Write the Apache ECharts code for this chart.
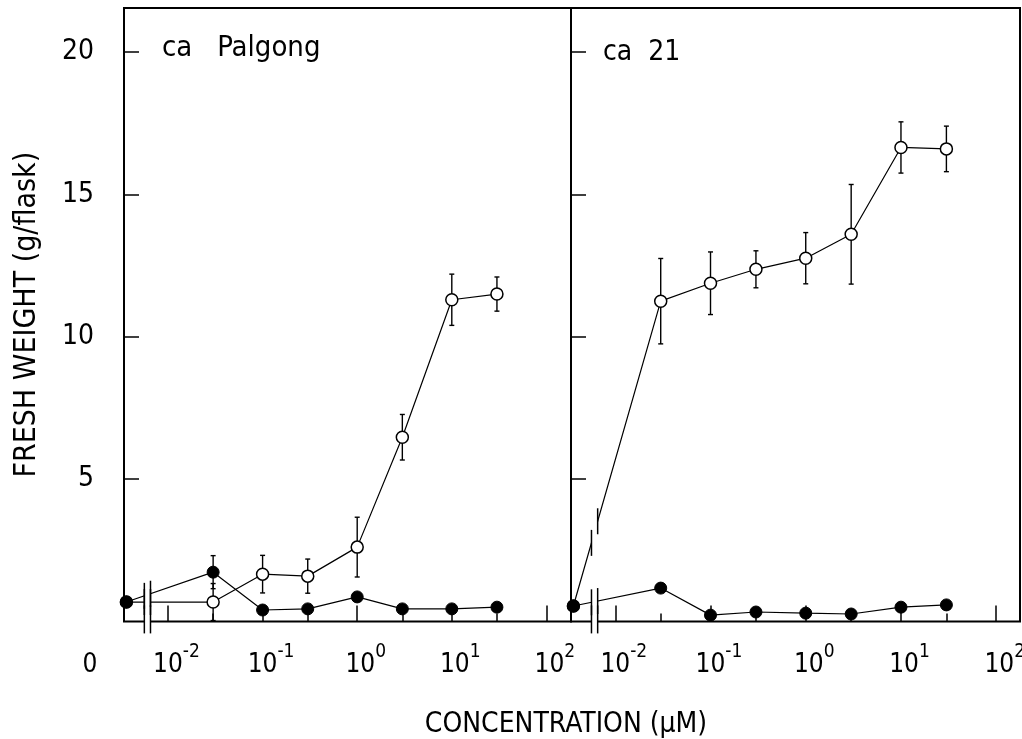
<!DOCTYPE html>
<html><head><meta charset="utf-8">
<script src="https://cdn.jsdelivr.net/npm/echarts@6/dist/echarts.min.js"></script>
<style>html,body{margin:0;padding:0;background:#fff}#c{width:1022px;height:739px}</style>
</head><body><div id="c"></div>
<script>
// ---- data ----
const concentrations = [0, 0.03, 0.1, 0.3, 1, 3, 10, 30];           // µM
const palgongOpen      = [0.68, 0.68, 1.66, 1.59, 2.61, 6.47, 11.3, 11.5];
const palgongOpenErr   = [0, 0.65, 0.66, 0.6, 1.05, 0.8, 0.9, 0.6];
const palgongFilled    = [0.68, 1.73, 0.4, 0.44, 0.86, 0.44, 0.44, 0.5];
const palgongFilledErr = [0, 0.58, 0, 0, 0, 0, 0, 0];
const ca21Open         = [0.54, 11.25, 11.88, 12.37, 12.76, 13.6, 16.65, 16.6];
const ca21OpenErr      = [0, 1.5, 1.1, 0.65, 0.9, 1.75, 0.9, 0.8];
const ca21Filled       = [0.54, 1.17, 0.22, 0.33, 0.29, 0.26, 0.5, 0.58];
const ca21FilledErr    = [0, 0, 0, 0, 0, 0, 0, 0];
const decadeExponents  = [-2, -1, 0, 1, 2];
const minorTickConc    = [0.03, 0.3, 3, 30];
const yTicks           = [5, 10, 15, 20];
const zeroLabel        = '0';
const panelLabels      = ['ca   Palgong', 'ca  21'];
const yTitle = 'FRESH WEIGHT (g/flask)';
const xTitle = 'CONCENTRATION (\u03bcM)';

// ---- layout / helpers ----
const FONT = "'DejaVu Sans Condensed', 'Liberation Sans Narrow', 'DejaVu Sans', sans-serif";
const X_MIN = -2.465, X_MAX = [2.26, 2.25];
const ZERO_X = -2.44;            // where concentration 0 is drawn on the broken log axis
const BREAK_X = [-2.25, -2.185]; // axis break marks
const toX = c => c === 0 ? ZERO_X : Math.log10(c);

const panels = [
  {open: palgongOpen, openErr: palgongOpenErr, filled: palgongFilled, filledErr: palgongFilledErr},
  {open: ca21Open, openErr: ca21OpenErr, filled: ca21Filled, filledErr: ca21FilledErr}
];

const grids = [
  {left: 124, top: 8, width: 447, height: 613.4},
  {left: 571, top: 8, width: 449, height: 613.4}
].map(g => Object.assign(g, {show: true, borderColor: '#000', borderWidth: 2, backgroundColor: 'transparent',
  containLabel: false, outerBoundsMode: 'none'}));

const richX = {
  p:  {width: 17, fontSize: 26, lineHeight: 36, fontFamily: FONT, color: '#000'},
  p0: {width: 1, fontSize: 26, lineHeight: 36, fontFamily: FONT, color: '#000'},
  b:  {fontSize: 26, lineHeight: 26, verticalAlign: 'bottom', fontFamily: FONT, color: '#000'},
  s:  {fontSize: 19, lineHeight: 19, verticalAlign: 'top', fontFamily: FONT, color: '#000'},
  z:  {fontSize: 26, lineHeight: 26, verticalAlign: 'bottom', fontFamily: FONT, color: '#000', padding: [0, 29, 0, 0]}
};

const xAxes = [], yAxes = [];
[0, 1].forEach(p => {
  xAxes.push({
    type: 'value', gridIndex: p, min: X_MIN, max: X_MAX[p], position: 'bottom',
    axisLine: {show: false, onZero: false}, splitLine: {show: false},
    axisTick: {show: true, inside: true, length: 16, lineStyle: {color: '#000', width: 1.5}, customValues: decadeExponents},
    axisLabel: {
      show: true, margin: 21, align: 'center', hideOverlap: false,
      customValues: decadeExponents,
      formatter: v => '{p| }{b|10}{s|' + decadeExponents[Math.round(v) + 2] + '}',
      rich: richX
    }
  });
  xAxes.push({
    type: 'value', gridIndex: p, min: X_MIN, max: X_MAX[p], position: 'bottom',
    axisLine: {show: false, onZero: false}, splitLine: {show: false},
    axisLabel: {show: p === 0, customValues: [ZERO_X], margin: 21, align: 'right', hideOverlap: false,
      formatter: () => '{p0| }{z|' + zeroLabel + '}', rich: richX},
    axisTick: {show: true, inside: true, length: 8, lineStyle: {color: '#000', width: 1.5}, customValues: minorTickConc.map(Math.log10)}
  });
  yAxes.push({
    type: 'value', gridIndex: p, min: 0, max: 21.55, position: 'left',
    axisLine: {show: false, onZero: false}, splitLine: {show: false},
    axisTick: {show: true, inside: true, length: 15, lineStyle: {color: '#000', width: 1.5}, customValues: yTicks},
    axisLabel: {show: p === 0, customValues: yTicks, margin: 30, fontSize: 28, fontFamily: FONT, color: '#000'},
    name: p === 0 ? yTitle : '', nameLocation: 'middle', nameGap: 82, nameRotate: 90,
    nameTextStyle: {fontSize: 30, fontFamily: FONT, color: '#000'}
  });
});

function errSeries(p, vals, errs) {
  const data = [];
  concentrations.forEach((c, i) => { if (errs[i] > 0) data.push([toX(c), vals[i] - errs[i], vals[i] + errs[i]]); });
  return {
    type: 'custom', xAxisIndex: p * 2, yAxisIndex: p, z: 1, silent: true,
    data,
    renderItem: (params, api) => {
      const lo = api.coord([api.value(0), api.value(1)]);
      const hi = api.coord([api.value(0), api.value(2)]);
      const st = {stroke: '#000', lineWidth: 1.4};
      return {type: 'group', children: [
        {type: 'line', shape: {x1: lo[0], y1: lo[1], x2: hi[0], y2: hi[1]}, style: st},
        {type: 'line', shape: {x1: lo[0] - 2.5, y1: lo[1], x2: lo[0] + 2.5, y2: lo[1]}, style: st},
        {type: 'line', shape: {x1: hi[0] - 2.5, y1: hi[1], x2: hi[0] + 2.5, y2: hi[1]}, style: st}
      ]};
    }
  };
}

function lineSeries(p, vals, filled) {
  return {
    type: 'line', xAxisIndex: p * 2, yAxisIndex: p, z: 2, silent: true, animation: false,
    data: concentrations.map((c, i) => [toX(c), vals[i]]),
    symbol: 'circle', symbolSize: 12, showAllSymbol: true,
    lineStyle: {color: '#000', width: 1.2},
    itemStyle: filled ? {color: '#000', borderColor: '#000', borderWidth: 1} : {color: '#fff', borderColor: '#000', borderWidth: 1.5}
  };
}

function breakSeries(p) {
  const P = panels[p];
  return {
    type: 'custom', xAxisIndex: p * 2, yAxisIndex: p, z: 5, silent: true, clip: false,
    data: [[0]],
    renderItem: (params, api) => {
      const segs = [[P.open[0], P.open[1]], [P.filled[0], P.filled[1]]].map(v => [
        api.coord([toX(concentrations[0]), v[0]]), api.coord([toX(concentrations[1]), v[1]])
      ]);
      const axisY = api.coord([0, 0])[1];
      const bx = BREAK_X.map(b => api.coord([b, 0])[0]);
      const lineYs = bx.map(x => segs.map(s => s[0][1] + (s[1][1] - s[0][1]) * (x - s[0][0]) / (s[1][0] - s[0][0])));
      const allY = [].concat(...lineYs);
      const top = Math.min(...allY) - 14;
      const st = {stroke: '#000', lineWidth: 1.5};
      const children = [{type: 'rect', shape: {x: bx[0], y: top, width: bx[1] - bx[0], height: axisY + 12 - top}, style: {fill: '#fff'}}];
      bx.forEach((x, k) => {
        lineYs[k].forEach(y => children.push({type: 'line', shape: {x1: x, y1: y - 13, x2: x, y2: y + 13}, style: st}));
        children.push({type: 'line', shape: {x1: x, y1: axisY - 16, x2: x, y2: axisY + 12}, style: st});
      });
      return {type: 'group', children};
    }
  };
}

const series = [];
[0, 1].forEach(p => {
  const P = panels[p];
  series.push(errSeries(p, P.open, P.openErr));
  series.push(errSeries(p, P.filled, P.filledErr));
  series.push(lineSeries(p, P.open, false));
  series.push(lineSeries(p, P.filled, true));
  series.push(breakSeries(p));
});

const chart = echarts.init(document.getElementById('c'), null, {renderer: 'canvas'});
chart.setOption({
  animation: false,
  backgroundColor: '#fff',
  grid: grids,
  xAxis: xAxes,
  yAxis: yAxes,
  series,
  graphic: [
    {type: 'text', x: 162, y: 48, style: {text: panelLabels[0], font: '29px ' + FONT, fill: '#000', align: 'left', verticalAlign: 'middle'}},
    {type: 'text', x: 603, y: 53, style: {text: panelLabels[1], font: '28px ' + FONT, fill: '#000', align: 'left', verticalAlign: 'middle'}},
    {type: 'text', x: 566, y: 725, style: {text: xTitle, font: '28px ' + FONT, fill: '#000', align: 'center', verticalAlign: 'middle'}}
  ]
});
</script></body></html>
